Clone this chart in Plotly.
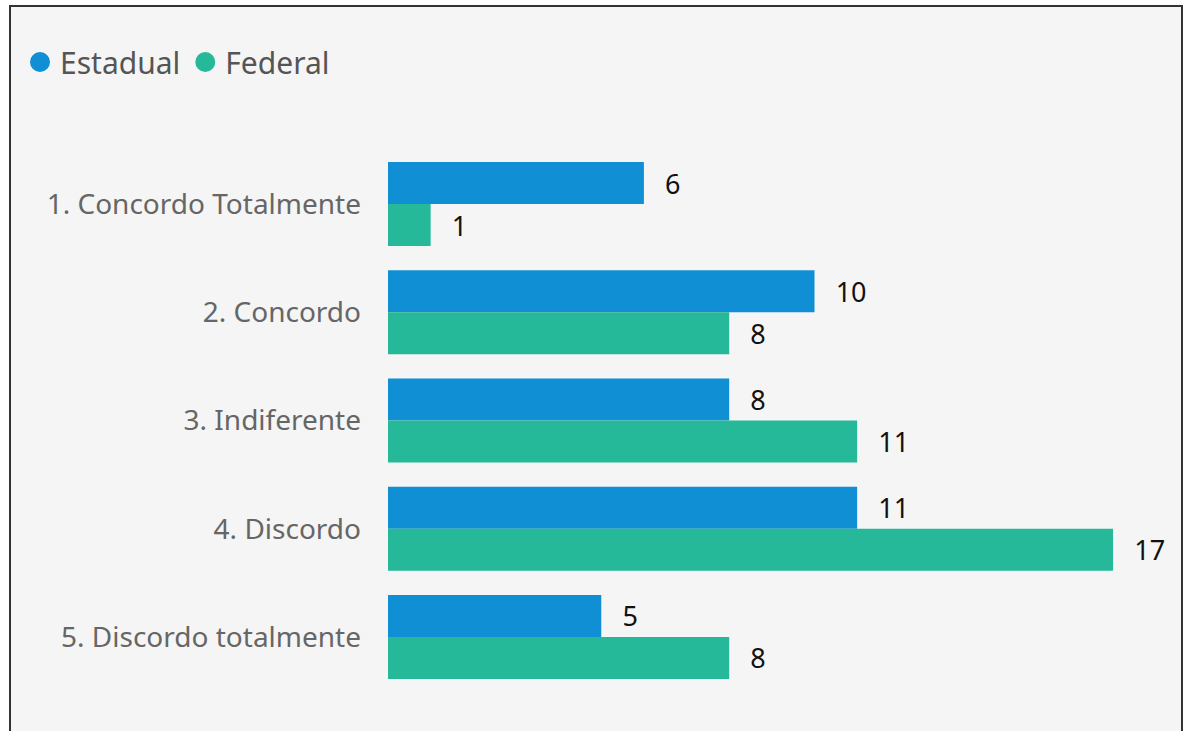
import plotly.graph_objects as go

categories = ["1. Concordo Totalmente", "2. Concordo", "3. Indiferente", "4. Discordo", "5. Discordo totalmente"]
estadual = [6, 10, 8, 11, 5]
federal = [1, 8, 11, 17, 8]
series_names = ["Estadual", "Federal"]
colors = ["#118FD4", "#26B999"]

W, H = 1185, 731
L, R, T, B = 388, 4, 150, 40
pw, ph = W - L - R, H - T - B

def px_x(p):
    return (p - L) / pw

def px_y(p):
    return 1 - (p - T) / ph

fig = go.Figure()
for name, vals, col in zip(series_names, [estadual, federal], colors):
    fig.add_trace(go.Bar(
        y=categories, x=vals, name=name, orientation="h",
        marker=dict(color=col, line=dict(width=0)),
        text=vals, texttemplate="\u2007\u200a%{x}", textposition="outside",
        textfont=dict(family="Noto Sans", size=27, color="#111111"),
        cliponaxis=False, showlegend=False,
    ))
    fig.add_trace(go.Scatter(
        x=[None], y=[None], mode="markers", name=name,
        marker=dict(symbol="circle", size=16, color=col, line=dict(color=col, width=4)),
        showlegend=True,
    ))

fig.add_shape(type="rect", xref="paper", yref="paper",
              x0=px_x(10), x1=px_x(1182), y0=px_y(760), y1=px_y(6),
              fillcolor="#F5F5F5", line=dict(color="#333333", width=2), layer="below")

fig.update_layout(
    width=W, height=H,
    margin=dict(l=L, r=R, t=T, b=B, pad=0),
    paper_bgcolor="#FFFFFF", plot_bgcolor="rgba(0,0,0,0)",
    barmode="group", bargap=0.224, bargroupgap=0,
    showlegend=True,
    legend=dict(orientation="h", x=px_x(20), xanchor="left", y=px_y(62), yanchor="middle",
                font=dict(family="Noto Sans", size=30, color="#555555"),
                itemwidth=30, tracegroupgap=0, bgcolor="rgba(0,0,0,0)"),
    xaxis=dict(range=[0, pw / 42.65], showgrid=False, zeroline=False, showticklabels=False,
               showline=False, fixedrange=True),
    yaxis=dict(categoryorder="array", categoryarray=categories, autorange="reversed",
               showgrid=False, zeroline=False, showline=False, ticks="",
               tickfont=dict(family="Noto Sans", size=28, color="#666666"), ticklabelstandoff=26),
)

fig.write_html("out.html")
